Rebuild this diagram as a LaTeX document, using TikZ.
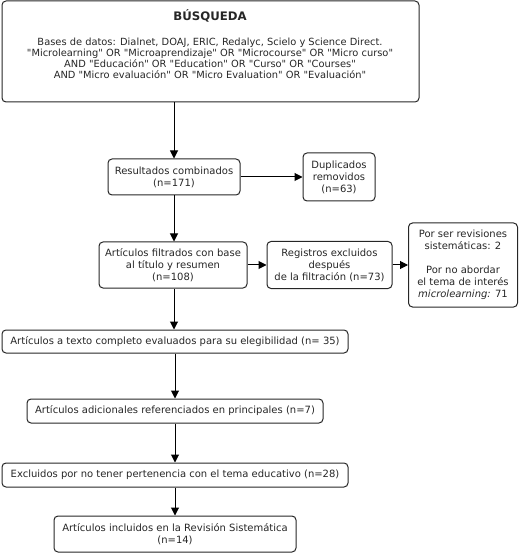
\documentclass[tikz,border=0pt]{standalone}
\usepackage{fontspec}
\setmainfont{DejaVu Sans}
\usetikzlibrary{arrows.meta}
\newcommand\qd{\textquotedbl}
\begin{document}
\begin{tikzpicture}[x=0.75pt,y=-0.75pt,
  box/.style={draw=black!85,line width=0.75pt,rounded corners=3pt,inner sep=0pt,align=center,
    font=\fontsize{7.5}{9}\selectfont,text=black!85},
  sz/.style 2 args={minimum width=#1*0.75pt,minimum height=#2*0.75pt},
  txt/.style={inner sep=0pt,align=center,font=\fontsize{7.4}{8.25}\selectfont,text=black!85},
  arr/.style={-{Triangle[length=6pt,width=6pt]},line width=0.75pt,black}]
\useasboundingbox (0,0) rectangle (518,555);
% boxes
\node[box,sz={417}{101}] (busq) at (210.5,51.5) {};
\node[txt,font=\fontsize{8.8}{10}\selectfont\bfseries] (busqtitle) at (210,16) {BÚSQUEDA};
\node[txt] (busqtext) at (210,58.5) {Bases de datos: Dialnet, DOAJ, ERIC, Redalyc, Scielo y Science Direct.\\
\qd Microlearning\qd{} OR \qd Microaprendizaje\qd{} OR \qd Microcourse\qd{} OR \qd Micro curso\qd\\
AND \qd Educación\qd{} OR \qd Education\qd{} OR \qd Curso\qd{} OR \qd Courses\qd\\
AND \qd Micro evaluación\qd{} OR \qd Micro Evaluation\qd{} OR \qd Evaluación\qd};
\node[box,sz={132}{36}] (res) at (174,177) {Resultados combinados\\(n=171)};
\node[box,sz={72}{48}] (dup) at (339,177) {Duplicados\\removidos\\(n=63)};
\node[box,sz={148}{46}] (filt) at (173,265) {Artículos filtrados con base\\al título y resumen\\(n=108)};
\node[box,sz={125}{47}] (reg) at (329.5,265) {Registros excluidos\\después\\de la filtración (n=73)};
\node[box,sz={109}{84}] (por) at (463,265) {Por ser revisiones\\sistemáticas: 2\\[9pt]Por no abordar\\el tema de interés\\\textit{microlearning:} 71};
\node[box,sz={346}{23}] (texto) at (175,341.5) {Artículos a texto completo evaluados para su elegibilidad (n= 35)};
\node[box,sz={296}{24}] (adic) at (175,411) {Artículos adicionales referenciados en principales (n=7)};
\node[box,sz={346}{24}] (excl) at (175,475) {Excluidos por no tener pertenencia con el tema educativo (n=28)};
\node[box,sz={242}{36}] (incl) at (175,534) {Artículos incluidos en la Revisión Sistemática\\(n=14)};
% arrows
\draw[arr] (busq.south -| res.north) -- (res.north);
\draw[arr] (res) -- (dup);
\draw[arr] (res.south) -- (res.south |- filt.north);
\draw[arr] (filt) -- (reg);
\draw[arr] (reg) -- (por);
\draw[arr] (res.south |- filt.south) -- (res.south |- texto.north);
\draw[arr] (texto.south) -- (adic.north);
\draw[arr] (adic.south) -- (excl.north);
\draw[arr] (excl.south) -- (incl.north);
\end{tikzpicture}
\end{document}
